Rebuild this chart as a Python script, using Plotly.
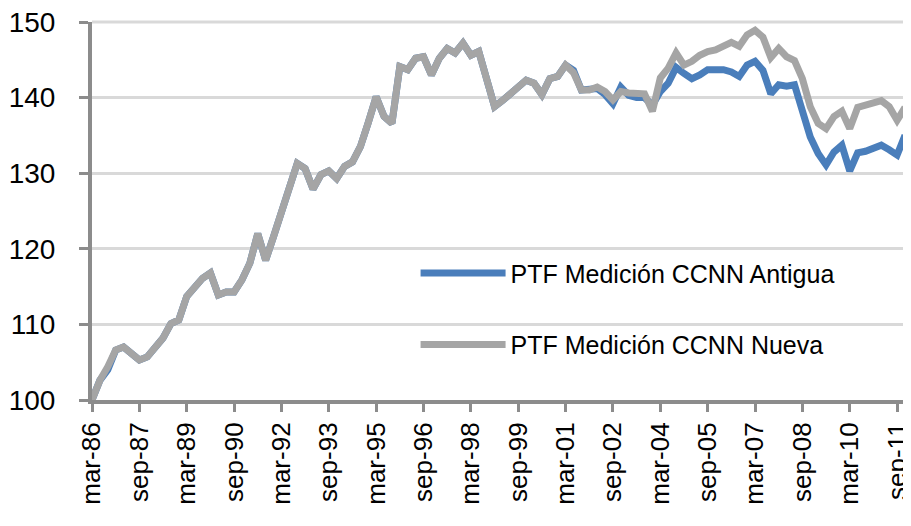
import plotly.graph_objects as go

# Quarterly categories, mar-86 .. dic-11
months = ["mar", "jun", "sep", "dic"]
years = ["86", "87", "88", "89", "90", "91", "92", "93", "94", "95", "96", "97", "98",
         "99", "00", "01", "02", "03", "04", "05", "06", "07", "08", "09", "10", "11"]
quarters = [m + "-" + y for y in years for m in months]

tick_labels = ["mar-86", "sep-87", "mar-89", "sep-90", "mar-92", "sep-93", "mar-95",
               "sep-96", "mar-98", "sep-99", "mar-01", "sep-02", "mar-04", "sep-05",
               "mar-07", "sep-08", "mar-10", "sep-11"]

y_ticks = [100, 110, 120, 130, 140, 150]

ptf_nueva = [
    100.0, 102.6, 104.4, 106.6, 107.0, 106.2, 105.3, 105.7, 107.0, 108.2,
    110.1, 110.6, 113.7, 114.8, 116.1, 116.8, 113.9, 114.3, 114.3, 115.9,
    118.1, 122.0, 118.5, 121.6, 124.9, 128.1, 131.3, 130.6, 127.9, 129.8,
    130.3, 129.3, 130.9, 131.5, 133.5, 136.7, 140.1, 137.5, 136.6, 144.1,
    143.7, 145.2, 145.4, 143.0, 145.2, 146.5, 145.9, 147.2, 145.6, 146.1,
    142.5, 138.8, 139.6, 140.6, 141.4, 142.3, 141.9, 140.4, 142.5, 142.8,
    144.3, 143.3, 141.0, 141.0, 141.4, 140.8, 139.7, 140.8, 140.6, 140.6,
    140.5, 138.2, 142.6, 143.9, 145.9, 144.3, 144.8, 145.6, 146.1, 146.3,
    146.8, 147.3, 146.8, 148.3, 148.9, 148.0, 145.3, 146.5, 145.4, 144.9,
    142.5, 138.8, 136.6, 135.9, 137.5, 138.2, 135.9, 138.7, 139.0, 139.3,
    139.6, 138.8, 137.0, 138.7,
]

ptf_antigua = [
    100.0, 102.6, 104.0, 106.6, 107.0, 106.2, 105.3, 105.7, 107.0, 108.2,
    110.1, 110.6, 113.7, 114.8, 116.1, 116.8, 113.9, 114.3, 114.3, 115.9,
    118.1, 122.0, 118.5, 121.6, 124.9, 128.1, 131.3, 130.6, 127.9, 129.8,
    130.3, 129.3, 130.9, 131.5, 133.5, 136.7, 140.1, 137.5, 136.6, 144.1,
    143.7, 145.2, 145.4, 143.0, 145.2, 146.5, 145.9, 147.2, 145.6, 146.1,
    142.5, 138.8, 139.6, 140.6, 141.4, 142.3, 141.9, 140.4, 142.5, 142.8,
    144.3, 143.6, 141.0, 141.0, 141.2, 140.4, 139.2, 141.4, 140.3, 140.0,
    140.0, 139.0, 140.8, 141.9, 144.0, 143.2, 142.5, 143.0, 143.7, 143.7,
    143.7, 143.4, 142.8, 144.3, 144.8, 143.6, 140.5, 141.7, 141.5, 141.7,
    138.0, 134.8, 132.6, 131.1, 132.8, 133.7, 130.3, 132.7, 132.9, 133.2,
    133.7, 133.1, 132.4, 135.0,
]

BLUE = "#4a7ebb"
GRAY = "#a5a5a5"
AXIS = "#8c8c8c"
GRID = "#d9d9d9"
FONT = "Liberation Sans, Arial, sans-serif"

fig = go.Figure()
fig.add_trace(go.Scatter(x=quarters, y=ptf_antigua, mode="lines",
                         name="PTF Medición CCNN Antigua", legendgroup="a",
                         line=dict(color=BLUE, width=7)))
fig.add_trace(go.Scatter(x=quarters, y=ptf_nueva, mode="lines",
                         name="PTF Medición CCNN Nueva", legendgroup="b",
                         line=dict(color=GRAY, width=7)))

# top gridline at the upper edge of the plot area (Plotly skips the gridline at the range end)
fig.add_shape(type="line", xref="paper", yref="paper", x0=0, x1=1, y0=1, y1=1,
              line=dict(color=GRID, width=3), layer="above")

# white box behind the legend hiding the gridlines
fig.add_shape(type="rect", xref="paper", yref="paper",
              x0=0.385, x1=0.990, y0=0.02, y1=0.55,
              fillcolor="white", line=dict(width=0), layer="between")

# the page body has an 8px margin, so the figure is sized to fit the 911x526 window
fig.update_layout(
    width=903, height=518,
    margin=dict(l=84, r=6, t=14, b=126),
    paper_bgcolor="white", plot_bgcolor="white",
    font=dict(family=FONT, color="black"),
    showlegend=True,
    legend=dict(x=0.398, y=0.396, xanchor="left", yanchor="top",
                bgcolor="rgba(0,0,0,0)", font=dict(size=25, family=FONT, color="black"),
                traceorder="grouped", tracegroupgap=36, itemwidth=85),
    xaxis=dict(type="category", range=[0, len(quarters) - 1], automargin=False,
               tickmode="array", tickvals=tick_labels, ticktext=tick_labels,
               tickangle=-90, tickfont=dict(size=26, family=FONT, color="black"),
               showline=True, linecolor=AXIS, linewidth=4,
               ticks="outside", ticklen=8, tickwidth=3, tickcolor=AXIS,
               showgrid=False, zeroline=False, ticklabeloverflow="allow"),
    yaxis=dict(range=[100, 150], tickmode="array", tickvals=y_ticks,
               ticktext=[str(v) for v in y_ticks], automargin=False,
               tickfont=dict(size=28, family=FONT, color="black"),
               showline=True, linecolor=AXIS, linewidth=4,
               ticks="outside", ticklen=9, tickwidth=3, tickcolor=AXIS,
               showgrid=True, gridcolor=GRID, gridwidth=3,
               zeroline=False, ticklabelstandoff=18, ticklabeloverflow="allow"),
)

fig.write_html("out.html")
